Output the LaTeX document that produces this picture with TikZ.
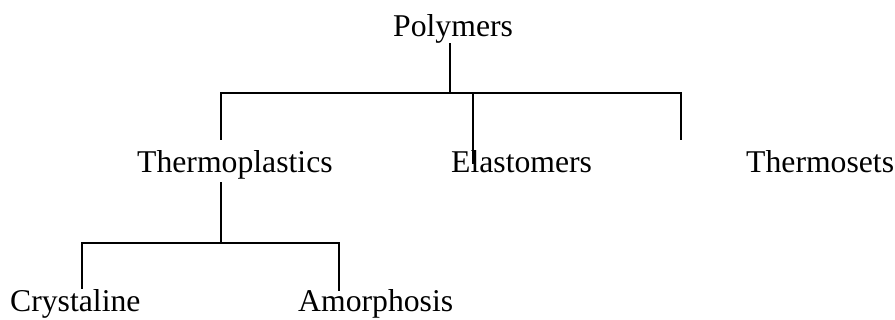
\documentclass[tikz,border=0pt]{standalone}
\usepackage{fontspec}
\setmainfont{Liberation Serif}
\begin{document}
\begin{tikzpicture}[x=1pt,y=-1pt,
  lbl/.style={inner sep=0pt,anchor=base west,font=\fontsize{31.7}{38}\selectfont},
  conn/.style={line width=2pt,line cap=rect}]
\path[use as bounding box] (0,0) rectangle (895,320);
% labels
\node[lbl] (poly) at (393,37) {Polymers};
\node[lbl] (thp) at (137,173) {Thermoplastics};
\node[lbl] (ela) at (451,173) {Elastomers};
\node[lbl] (ths) at (746,173) {Thermosets};
\node[lbl] (cry) at (10,312) {Crystaline};
\node[lbl] (amo) at (298,312) {Amorphosis};
% junction coordinates
\coordinate (j0) at (450,93);
\coordinate (a1) at (221,139);
\coordinate (a2) at (473,163);
\coordinate (a3) at (681,139);
\coordinate (b0) at (221,183);
\coordinate (bus) at (0,243);
\coordinate (b1) at (82,288);
\coordinate (b2) at (339,290);
% top tree
\draw[conn] (poly.south -| j0) -- (j0);
\draw[conn] (a1) -- (a1 |- j0) -- (a3 |- j0) -- (a3);
\draw[conn] (j0 -| a2) -- (a2);
% lower tree
\draw[conn] (b0) -- (b0 |- bus);
\draw[conn] (b1) -- (b1 |- bus) -- (b2 |- bus) -- (b2);
\end{tikzpicture}
\end{document}
